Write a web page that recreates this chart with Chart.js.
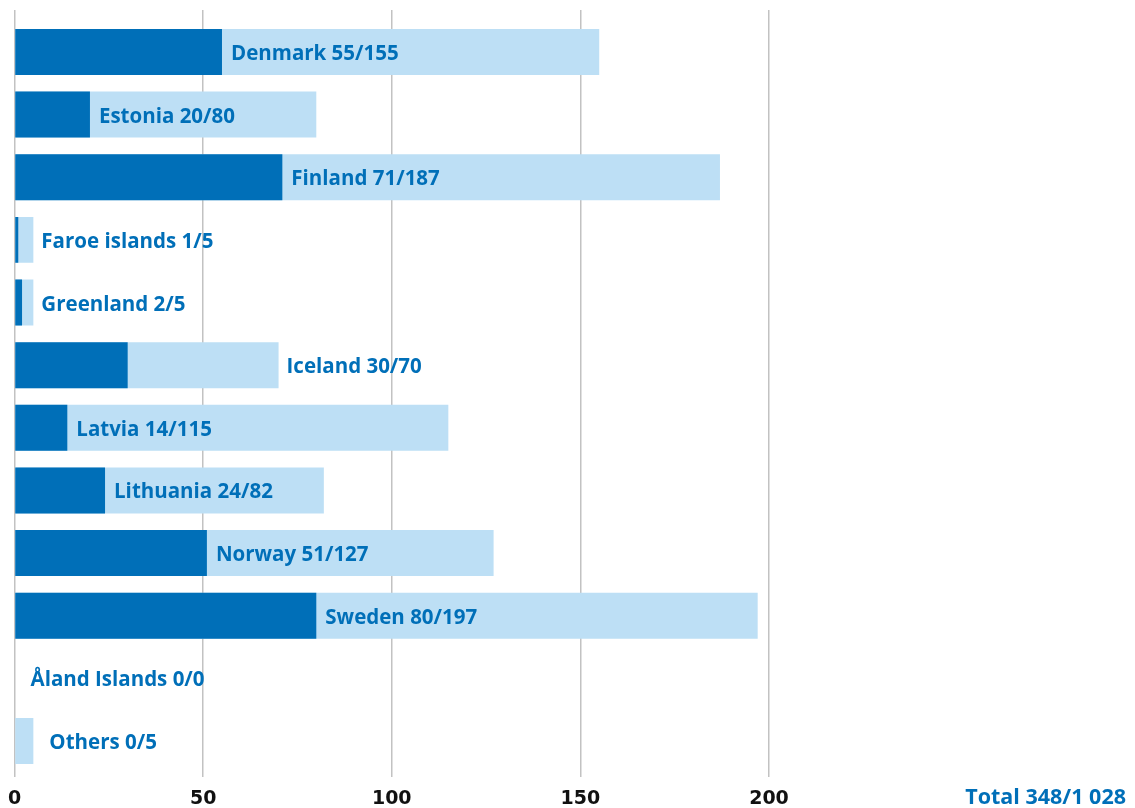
<!DOCTYPE html>
<html>
<head>
<meta charset="utf-8">
<script src="https://cdn.jsdelivr.net/npm/chart.js@4/dist/chart.umd.min.js"></script>
<style>
  html, body { margin: 0; padding: 0; background: #fff; }
  #wrap { width: 1135px; height: 808px; }
</style>
</head>
<body>
<div id="wrap"><canvas id="chart"></canvas></div>
<script>
// Data
const countries = ['Denmark', 'Estonia', 'Finland', 'Faroe islands', 'Greenland', 'Iceland',
                   'Latvia', 'Lithuania', 'Norway', 'Sweden', 'Åland Islands', 'Others'];
const approved = [55, 20, 71, 1, 2, 30, 14, 24, 51, 80, 0, 0];
const submitted = [155, 80, 187, 5, 5, 70, 115, 82, 127, 197, 0, 5];
const xTicks = [0, 50, 100, 150, 200];
const totalLabel = 'Total 348/1 028';

const DARK = '#006fb8';
const LIGHT = '#bddff5';
const LABEL_FONT = 'bold 20.5px "Open Sans"';

// bar labels "Country a/b": inside the light part if it fits, otherwise after it
const barLabels = {
    id: 'barLabels',
    afterDatasetsDraw(chart) {
        const ctx = chart.ctx;
        const x = chart.scales.x;
        const y = chart.scales.y;
        ctx.save();
        ctx.font = LABEL_FONT;
        ctx.fillStyle = DARK;
        ctx.textAlign = 'left';
        ctx.textBaseline = 'alphabetic';
        countries.forEach((name, i) => {
            const text = name + ' ' + approved[i] + '/' + submitted[i];
            const w = ctx.measureText(text).width;
            const darkEnd = x.getPixelForValue(approved[i]);
            const lightEnd = x.getPixelForValue(submitted[i]);
            let px = darkEnd + 9;
            if (approved[i] === 0) px = lightEnd + 16;
            else if (px + w + 12 > lightEnd) px = lightEnd + 8;
            const py = y.getPixelForValue(i) + 8;
            ctx.fillText(text, px, py);
        });
        // total in the bottom right corner
        ctx.font = 'bold 21.5px "Open Sans"';
        ctx.textAlign = 'right';
        ctx.fillText(totalLabel, chart.width - 9, 804);
        ctx.restore();
    }
};

const ctx = document.getElementById('chart');
new Chart(ctx, {
    type: 'bar',
    data: {
        datasets: [
            {
                label: 'Approved',
                data: approved.map((v, i) => ({ x: v, y: i })),
                backgroundColor: DARK,
                grouped: false
            },
            {
                label: 'Submitted',
                data: submitted.map((v, i) => ({ x: v, y: i })),
                backgroundColor: LIGHT,
                grouped: false
            }
        ]
    },
    options: {
        indexAxis: 'y',
        responsive: true,
        maintainAspectRatio: false,
        animation: false,
        layout: { padding: { top: 10, left: 14.5, right: 366, bottom: 0 } },
        datasets: {
            bar: { barPercentage: 0.734, categoryPercentage: 1 }
        },
        plugins: {
            legend: { display: false },
            tooltip: { enabled: false }
        },
        scales: {
            x: {
                type: 'linear',
                min: 0,
                max: 200,
                afterBuildTicks: (scale) => { scale.ticks = xTicks.map(v => ({ value: v })); },
                afterFit: (scale) => {
                    scale.height = 31;
                    scale.paddingLeft = 0;
                    scale.paddingRight = 0;
                },
                grid: { color: '#c2c2c2', lineWidth: 1.5, drawTicks: false },
                border: { display: false },
                ticks: {
                    padding: 11,
                    color: '#111',
                    font: { family: 'DejaVu Sans', weight: 'bold', size: 19 }
                }
            },
            y: {
                type: 'linear',
                reverse: true,
                offset: false,
                min: -0.67,
                max: 11.575,
                afterBuildTicks: (scale) => { scale.ticks = countries.map((c, i) => ({ value: i })); },
                display: false
            }
        }
    },
    plugins: [barLabels]
});
</script>
</body>
</html>
